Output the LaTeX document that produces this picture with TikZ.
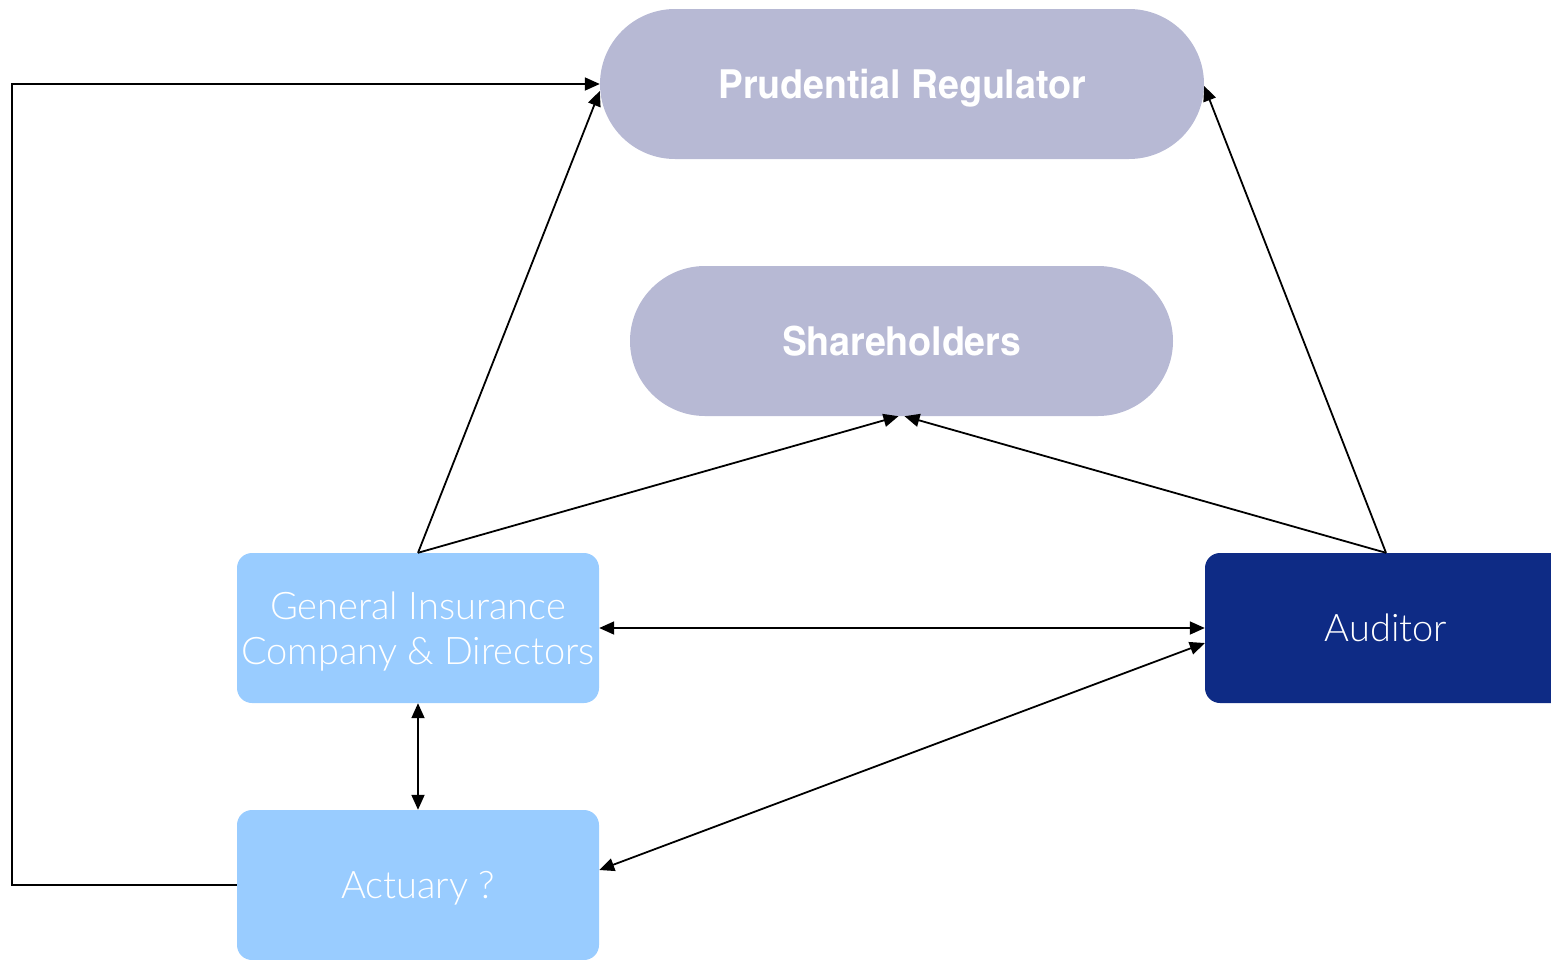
\documentclass[tikz,border=0pt]{standalone}
\usepackage{fontspec}
\setmainfont{TeX Gyre Heros}
\newfontfamily\cnbold{TeX Gyre Heros Cn}[UprightFont=*-Bold, FakeStretch=1.14]
\newfontfamily\lightfont{Lato Light}
\usetikzlibrary{arrows.meta}
\definecolor{pillcol}{RGB}{183,185,212}
\definecolor{lightblue}{RGB}{153,204,255}
\definecolor{navy}{RGB}{14,43,133}
\tikzset{
  pill/.style={fill=pillcol, rounded corners=75pt, minimum height=150pt, inner sep=0pt, text=white, text depth=0pt, font=\cnbold\fontsize{40}{46}\selectfont},
  box/.style={rounded corners=15pt, minimum width=362pt, minimum height=150pt, inner sep=0pt, text=white, align=center, text depth=0pt, font=\lightfont\fontsize{38}{45}\selectfont},
  conn/.style={line width=1.8pt, -{Triangle[length=15pt,width=13pt]}},
  conn2/.style={line width=1.8pt, {Triangle[length=15pt,width=13pt]}-{Triangle[length=15pt,width=13pt]}},
}
\begin{document}
\begin{tikzpicture}[x=1pt,y=-1pt]
\useasboundingbox (0,0) rectangle (1551,959);
\node[pill, minimum width=604pt] (pr) at (902,84) {Prudential Regulator};
\node[pill, minimum width=543pt] (sh) at (901.5,341) {Shareholders};
\node[box, fill=lightblue] (gi) at (418,628) {General Insurance\\Company \& Directors};
\node[box, fill=navy] (aud) at (1386,628) {Auditor};
\node[box, fill=lightblue] (act) at (418,885) {Actuary ?};
\coordinate (c1) at (12,885);
\coordinate (c2) at (12,84);
\draw[conn] (act.west) -- (c1) -- (c2) -- (pr.west);
\draw[conn] (gi.north) -- ([yshift=-7pt]pr.west);
\draw[conn] (gi.north) -- ([xshift=-3pt]sh.south);
\draw[conn] (aud.north) -- ([xshift=3pt]sh.south);
\draw[conn] (aud.north) -- ([yshift=-2pt]pr.east);
\draw[conn2] (gi.east) -- (aud.west);
\draw[conn2] (gi.south) -- (act.north);
\draw[conn2] ([yshift=15pt]act.east) -- ([yshift=-15pt]aud.west);
\end{tikzpicture}
\end{document}
